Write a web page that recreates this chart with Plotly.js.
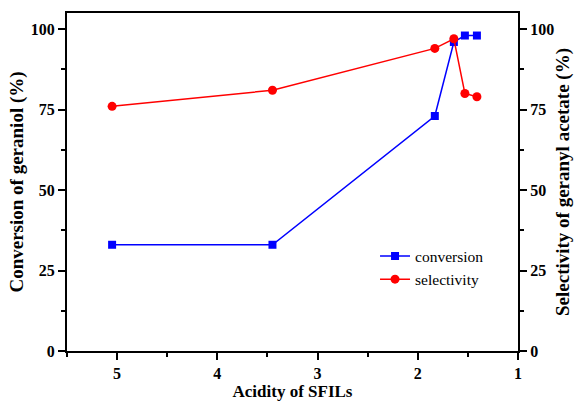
<!DOCTYPE html>
<html><head><meta charset="utf-8">
<script src="https://cdn.plot.ly/plotly-3.0.1.min.js"></script>
<style>html,body{margin:0;padding:0;background:#fff}#c{width:574px;height:401px}</style>
</head><body><div id="c"></div>
<script>
const acidity = [5.05, 3.45, 1.83, 1.64, 1.53, 1.41];
const conversion = [33, 33, 73, 96, 98, 98];
const selectivity = [76, 81, 94, 97, 80, 79];
const yTicks = [0, 25, 50, 75, 100];
const xTicks = [5, 4, 3, 2, 1];

const fam = '"Liberation Serif", "Times New Roman", serif';
const font = {family: fam, size: 16, color: '#000'};
const tickFont = {family: fam, size: 16, color: '#000', weight: 'bold'};
const yTitleFont = {family: fam, size: 19, color: '#000', weight: 'bold'};
const xTitleFont = {family: fam, size: 17, color: '#000', weight: 'bold'};

const traces = [
  {x: acidity, y: conversion, name: 'conversion', type: 'scatter', mode: 'lines+markers',
   line: {color: '#0000ff', width: 1.5}, marker: {symbol: 'square', size: 8, color: '#0000ff'}, yaxis: 'y'},
  {x: acidity, y: selectivity, name: 'selectivity', type: 'scatter', mode: 'lines+markers',
   line: {color: '#ff0000', width: 1.5}, marker: {symbol: 'circle', size: 9, color: '#ff0000'}, yaxis: 'y2'}
];

const yBase = {
  range: [0, 105], tickvals: yTicks, ticktext: yTicks.map(String),
  ticks: 'outside', ticklen: 7, tickwidth: 2, tickcolor: '#000',
  showline: true, linewidth: 2, linecolor: '#000', showgrid: false, zeroline: false,
  tickfont: tickFont,
  minor: {dtick: 12.5, tick0: 0, ticks: 'outside', ticklen: 4, tickwidth: 2, tickcolor: '#000', showgrid: false}
};

const layout = {
  width: 574, height: 401,
  margin: {l: 67, r: 56, t: 13, b: 50},
  paper_bgcolor: '#fff', plot_bgcolor: '#fff',
  font: font,
  showlegend: true,
  legend: {x: 0.683, y: 0.33, xanchor: 'left', yanchor: 'top', bgcolor: 'rgba(0,0,0,0)',
           font: {family: fam, size: 15.5, color: '#000'}, tracegroupgap: 0},
  xaxis: {
    range: [5.5, 1], tickvals: xTicks, ticktext: xTicks.map(String),
    ticks: 'outside', ticklen: 7, tickwidth: 2, tickcolor: '#000',
    showline: true, linewidth: 2, linecolor: '#000', mirror: true, showgrid: false, zeroline: false,
    tickfont: tickFont,
    minor: {dtick: 0.5, tick0: 1, ticks: 'outside', ticklen: 4, tickwidth: 2, tickcolor: '#000', showgrid: false},
    title: {text: 'Acidity of SFILs', font: xTitleFont, standoff: 5}
  },
  yaxis: Object.assign({}, yBase, {
    title: {text: 'Conversion of geraniol (%)', font: yTitleFont, standoff: 2}
  }),
  yaxis2: Object.assign({}, yBase, {
    overlaying: 'y', side: 'right',
    title: {text: 'Selectivity of geranyl acetate (%)', font: yTitleFont, standoff: 3}
  })
};

Plotly.newPlot('c', traces, layout, {displayModeBar: false, staticPlot: true});
</script>
</body></html>
